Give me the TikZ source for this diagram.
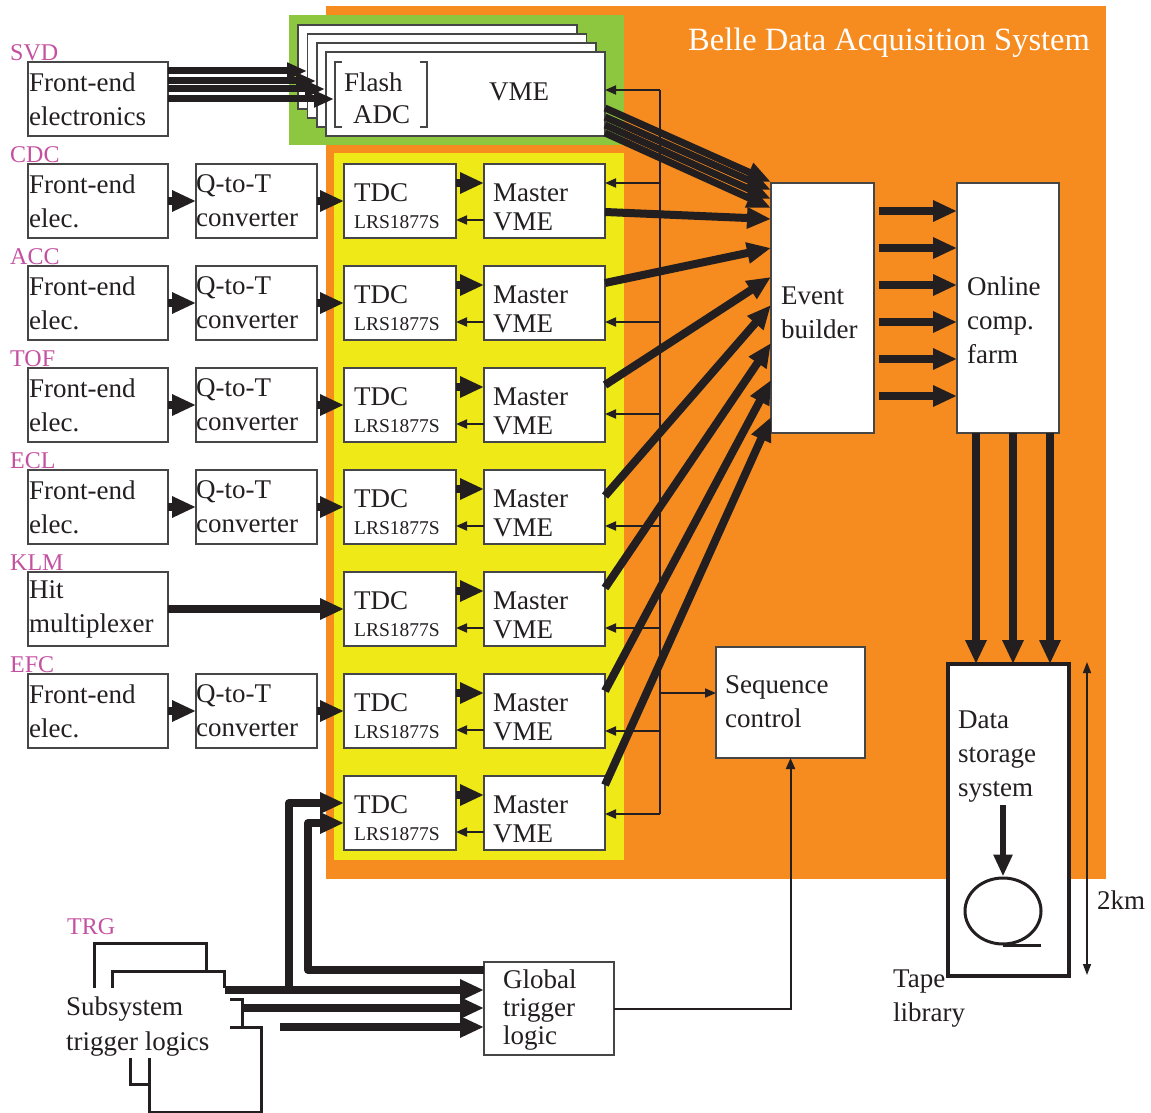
\documentclass[tikz,border=0pt]{standalone}
\usepackage{fontspec}
\setmainfont{Liberation Serif}
\usetikzlibrary{arrows.meta,calc,shapes.geometric}
\definecolor{dorange}{RGB}{246,139,31}
\definecolor{dgreen}{RGB}{141,198,63}
\definecolor{dyellow}{RGB}{240,233,24}
\definecolor{ink}{RGB}{35,31,32}
\definecolor{lbl}{RGB}{196,80,160}
\definecolor{edge}{RGB}{70,70,70}
\tikzset{
  box/.style={draw=edge, line width=1.3pt, fill=white, anchor=north west, inner sep=0pt, outer sep=0pt},
  trgbox/.style={draw=ink, line width=3pt, fill=white, anchor=north west, inner sep=0pt, outer sep=0pt, minimum width=112.5pt, minimum height=85pt},
  txt/.style={font=\fontsize{27pt}{34pt}\selectfont, text=ink, align=left, inner sep=0pt, anchor=west},
  smalltxt/.style={font=\fontsize{19.5pt}{22pt}\selectfont, text=ink, inner sep=0pt, anchor=west},
  lbltxt/.style={font=\fontsize{24pt}{26pt}\selectfont, text=lbl, inner sep=0pt, anchor=west},
  titletxt/.style={font=\fontsize{32.5pt}{34pt}\selectfont, text=white, inner sep=0pt, anchor=west},
  thickarrow/.style={draw=ink, line width=8pt, -{Triangle[length=24pt,width=20pt]}},
  bundlearrow/.style={draw=ink, line width=7pt, -{Triangle[length=24pt,width=19pt]}},
  svdarrow/.style={draw=ink, line width=7pt, -{Triangle[length=20pt,width=16pt]}},
  thinarrow/.style={draw=ink, line width=2pt, -{Triangle[length=11pt,width=9pt]}},
  busline/.style={draw=ink, line width=2pt},
  dimarrow/.style={draw=ink, line width=1.5pt, {Triangle[length=11pt,width=8pt]}-{Triangle[length=11pt,width=8pt]}},
  storearrow/.style={draw=ink, line width=6pt, -{Triangle[length=22pt,width=18pt]}},
}
\begin{document}
\begin{tikzpicture}[x=1pt,y=-1pt]
\useasboundingbox (0,0) rectangle (1151,1113);
% backgrounds
\fill[dorange] (326,6) rectangle (1106,879);
\fill[dgreen] (289,15) rectangle (624,145);
\fill[dyellow] (334,153) rectangle (624,860);
\node[titletxt] (title) at (688,43) {Belle Data Acquisition System};

% SVD front end and flash ADC stack
\node[box, minimum width=140pt, minimum height=74pt] (fe0) at (28,62) {};
\node[txt] (fe0t) at ($(fe0.west)+(1,0)$) {Front-end\\electronics};
\foreach \n/\x/\y in {1/298/25, 2/307.5/34, 3/317/43, 4/326/52}
  \node[box, minimum width=279pt, minimum height=84pt] (fadc\n) at (\x,\y) {};
\node[txt] (flash) at (344,82) {Flash};
\node[txt] (adc) at (353,115) {ADC};
\node[txt, anchor=center] (vme0) at (519,92) {VME};
\draw[edge, line width=1.5pt] (342,62) -- (335,62) -- (335,127) -- (342,127);
\draw[edge, line width=1.5pt] (420,62) -- (427,62) -- (427,127) -- (420,127);
\foreach \l/\d in {139/9, 148/19, 157/27, 166/37}
  \draw[svdarrow] ($(fe0.north east)+(0,\d)$) -- ($(fe0.north east)+(\l,\d)$);

% TDC / Master VME rows
\foreach \i/\T in {1/164,2/266,3/368,4/470,5/572,6/674,7/776} {
  \node[box, minimum width=112pt, minimum height=74pt] (tdc\i) at (344,\T) {};
  \node[box, minimum width=121pt, minimum height=74pt] (mv\i) at (484,\T) {};
  \node[txt] (tdct\i) at ($(tdc\i.north west)+(10,29)$) {TDC};
  \node[smalltxt] (lrs\i) at ($(tdc\i.north west)+(10,58)$) {LRS1877S};
  \node[txt] (mvt\i) at ($(mv\i.north west)+(9,29)$) {Master};
  \node[txt] (mvv\i) at ($(mv\i.north west)+(9,58)$) {VME};
  \draw[thickarrow] ($(tdc\i.north east)+(0,19)$) -- ($(mv\i.north west)+(0,19)$);
  \draw[thinarrow] ($(mv\i.north west)+(0,56)$) -- ($(tdc\i.north east)+(0,56)$);
}
\foreach \i/\T/\lab in {1/164/CDC,2/266/ACC,3/368/TOF,4/470/ECL,6/674/EFC} {
  \node[box, minimum width=140pt, minimum height=74pt] (fe\i) at (28,\T) {};
  \node[box, minimum width=121pt, minimum height=74pt] (qt\i) at (196,\T) {};
  \node[txt] (fet\i) at ($(fe\i.west)+(1,0)$) {Front-end\\elec.};
  \node[txt] (qtt\i) at ($(qt\i.west)+(0,0)$) {Q-to-T\\converter};
  \node[lbltxt] (lab\i) at ($(fe\i.north west)+(-18,-9)$) {\lab};
  \draw[thickarrow] (fe\i.east) -- (qt\i.west);
  \draw[thickarrow] (qt\i.east) -- (tdc\i.west);
}
\node[box, minimum width=140pt, minimum height=74pt] (hm) at (28,572) {};
\node[txt] (hmt) at ($(hm.west)+(1,0)$) {Hit\\multiplexer};
\node[lbltxt] (klm) at ($(hm.north west)+(-18,-9)$) {KLM};
\draw[thickarrow] (hm.east) -- (tdc5.west);
\node[lbltxt] (svd) at ($(fe0.north west)+(-18,-9)$) {SVD};

% control bus
\coordinate (busT) at (660,90);
\coordinate (busB) at (660,814);
\draw[busline] (busT) -- (busB);
\draw[thinarrow] (busT) -- (fadc4.east |- busT);
\foreach \i/\d in {1/19,2/56,3/46,4/56,5/56,6/57,7/38}
  \draw[thinarrow] ($(mv\i.north east)+(55,\d)$) -- ($(mv\i.north east)+(0,\d)$);

% event builder, farm, sequence control
\node[box, minimum width=103pt, minimum height=250pt] (eb) at (771,183) {};
\node[txt] (ebt) at (781,313) {Event\\builder};
\node[box, minimum width=102pt, minimum height=250pt] (ocf) at (957,183) {};
\node[txt] (ocft) at (967,320) {Online\\comp.\\farm};
\node[box, minimum width=149pt, minimum height=111pt] (seq) at (716,647) {};
\node[txt] (seqt) at (725,702) {Sequence\\control};
\draw[thinarrow] ($(seq.north west)+(-56,46)$) -- ($(seq.north west)+(0,46)$);

\foreach \s/\e in {56/-1,65/7,73/16,81/25}
  \draw[bundlearrow] ($(fadc4.north east)+(0,\s)$) -- ($(eb.north west)+(0,\e)$);
\foreach \i/\s/\e in {1/48/36,2/17/65,3/17/94,4/26/122,5/16/160,6/17/197,7/9/234}
  \draw[thickarrow] ($(mv\i.north east)+(0,\s)$) -- ($(eb.north west)+(0,\e)$);
\foreach \d in {28,65,102,139,176,213}
  \draw[thickarrow] ($(eb.north east)+(5,\d)$) -- ($(ocf.north west)+(0,\d)$);

% data storage
\node[box, draw=ink, line width=3.5pt, minimum width=121pt, minimum height=312pt] (dss) at (948,664) {};
\foreach \d in {19,56,93}
  \draw[thickarrow] ($(ocf.south west)+(\d,0)$) -- ($(dss.north west)+(\d+9,0)$);
\node[txt] (dsst) at (958,757) {Data\\storage\\system};
\node[draw=ink, line width=3pt, ellipse, inner sep=0pt, minimum width=76pt, minimum height=66pt] (tape) at (1003,911) {};
\draw[ink, line width=3pt] (tape.south) -- ++(38,0);
\coordinate (dsa) at (1003,805);
\draw[storearrow] (dsa) -- (tape.north);
\coordinate (kmT) at (1087,662);
\coordinate (kmB) at (1087,975);
\draw[dimarrow] (kmT) -- (kmB);
\node[txt] (km) at (1097,900) {2km};
\node[txt] (tapelib) at (893,999) {Tape\\library};

% trigger
\node[trgbox] (trgA) at (94,943) {};
\node[trgbox] (trgB) at (112,971) {};
\node[trgbox] (trgC) at (130,999) {};
\node[trgbox] (trgD) at (149,1027) {};
\fill[white] (60,988) rectangle (230,1058);
\node[txt, font=\fontsize{27pt}{35pt}\selectfont] (trgt) at (66,1027) {Subsystem\\trigger logics};
\node[lbltxt] (trg) at (67,927) {TRG};
\node[box, minimum width=130pt, minimum height=93pt] (gtl) at (484,962) {};
\node[txt, font=\fontsize{27pt}{28pt}\selectfont] (gtlt) at (503,1010) {Global\\trigger\\logic};
\coordinate (trg3) at (280,1027);
\coordinate (br1) at (289,990);
\draw[thickarrow] ($(trgB.north east)+(0,19)$) -- ($(gtl.north west)+(0,28)$);
\draw[thickarrow] ($(trgC.north east)+(0,9)$) -- ($(gtl.north west)+(0,46)$);
\draw[thickarrow] (trg3) -- ($(gtl.north west)+(0,65)$);
\draw[thickarrow, line join=round] (br1) -- (289,803) -- ($(tdc7.north west)+(0,27)$);
\draw[thickarrow, line join=round] ($(gtl.north west)+(0,8)$) -- (308,970) -- (308,823) -- ($(tdc7.north west)+(0,47)$);
\draw[thinarrow] (gtl.east) -| (seq.south);
\end{tikzpicture}
\end{document}
